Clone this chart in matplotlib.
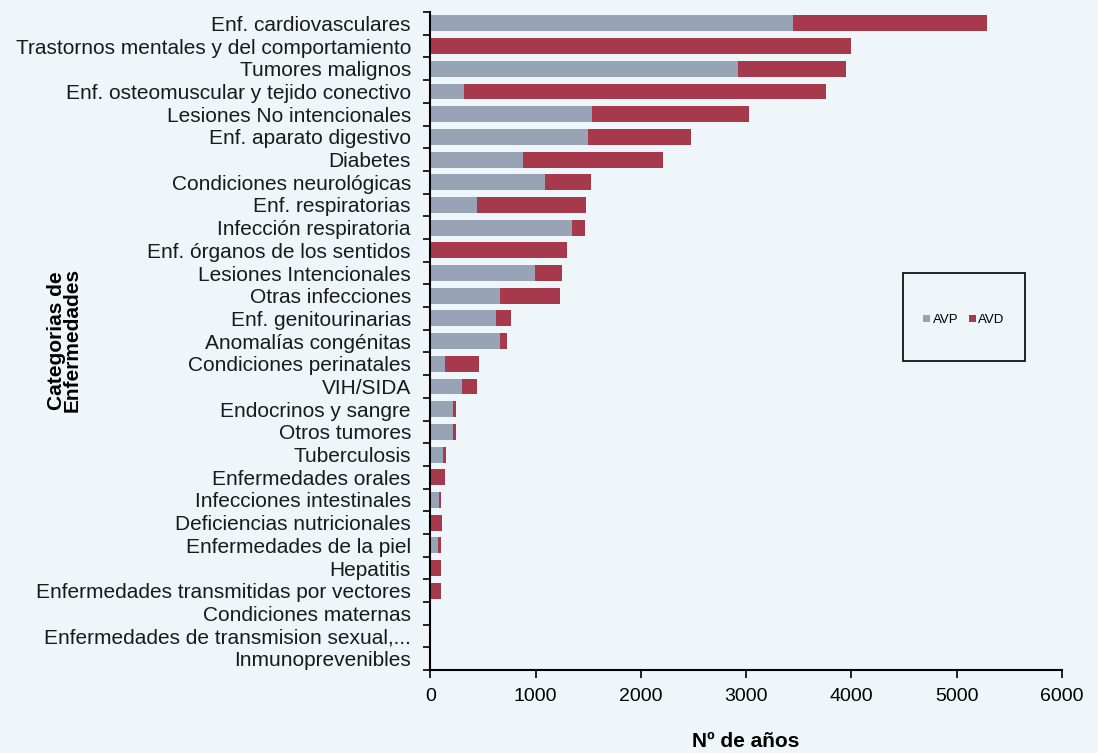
import matplotlib
matplotlib.use('Agg')
import matplotlib.pyplot as plt
from matplotlib.patches import Rectangle
from matplotlib.ticker import FixedLocator
import numpy as np

plt.rcParams['font.family'] = ['Liberation Sans', 'DejaVu Sans']

categorias = [
    'Enf. cardiovasculares',
    'Trastornos mentales y del comportamiento',
    'Tumores malignos',
    'Enf. osteomuscular y tejido conectivo',
    'Lesiones No intencionales',
    'Enf. aparato digestivo',
    'Diabetes',
    'Condiciones neurológicas',
    'Enf. respiratorias',
    'Infección respiratoria',
    'Enf. órganos de los sentidos',
    'Lesiones Intencionales',
    'Otras infecciones',
    'Enf. genitourinarias',
    'Anomalías congénitas',
    'Condiciones perinatales',
    'VIH/SIDA',
    'Endocrinos y sangre',
    'Otros tumores',
    'Tuberculosis',
    'Enfermedades orales',
    'Infecciones intestinales',
    'Deficiencias nutricionales',
    'Enfermedades de la piel',
    'Hepatitis',
    'Enfermedades transmitidas por vectores',
    'Condiciones maternas',
    'Enfermedades de transmision sexual,...',
    'Inmunoprevenibles',
]

avp = [3450, 0, 2920, 320, 1540, 1500, 880, 1090, 440, 1350,
       0, 990, 660, 620, 660, 140, 300, 210, 210, 120,
       0, 80, 0, 75, 0, 0, 0, 0, 0]
avd = [1840, 4000, 1030, 3440, 1490, 980, 1330, 440, 1040, 120,
       1300, 260, 570, 150, 70, 320, 140, 35, 30, 30,
       135, 25, 110, 22, 100, 105, 3, 10, 0]

color_avp = '#98a4b6'
color_avd = '#a63a4c'
fondo = '#eef6f9'

fig = plt.figure(figsize=(10.98, 7.53), dpi=100, facecolor=fondo)
ax = fig.add_axes([0.392, 0.110, 0.575, 0.874])
ax.set_facecolor(fondo)

y = np.arange(len(categorias))
ax.barh(y, avp, height=0.7, color=color_avp, label='AVP')
ax.barh(y, avd, left=avp, height=0.7, color=color_avd, label='AVD')

ax.set_ylim(len(categorias) - 0.5, -0.5)
ax.set_xlim(0, 6000)
ax.set_xticks(range(0, 6001, 1000))
ax.set_yticks(y)
ax.set_yticklabels(categorias, fontsize=15, color='#1a1a1a')
ax.yaxis.set_minor_locator(FixedLocator(np.arange(-0.5, len(categorias), 1)))
ax.tick_params(axis='y', which='major', length=0, pad=14)
ax.tick_params(axis='y', which='minor', length=5, width=1.2, direction='out')
ax.tick_params(axis='x', which='major', length=6, width=1.2, labelsize=14, pad=7)

for s in ['top', 'right']:
    ax.spines[s].set_visible(False)
for s in ['left', 'bottom']:
    ax.spines[s].set_linewidth(1.5)

ax.set_xlabel('Nº de años', fontsize=15, fontweight='bold', labelpad=19)
fig.text(64 / 1098, 0.548, 'Categorias de\nEnfermedades', rotation=90,
         ha='center', va='center', fontsize=15, fontweight='bold',
         linespacing=0.8, multialignment='center')

# recuadro de la leyenda
fig.patches.append(Rectangle((903 / 1098, 1 - 361 / 753), 122 / 1098, 88 / 753,
                             transform=fig.transFigure, fill=False,
                             edgecolor='black', linewidth=1.2))
fig.legend(loc='center', bbox_to_anchor=(964 / 1098, 1 - 320 / 753), ncol=2,
           frameon=False, fontsize=9.5, handlelength=0.5, handleheight=0.5,
           handletextpad=0.2, columnspacing=0.8)

plt.savefig('out.png', dpi=100, facecolor=fondo)
